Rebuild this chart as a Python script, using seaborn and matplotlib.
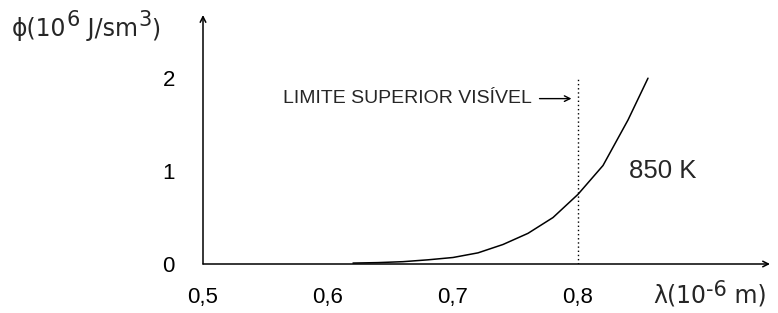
import matplotlib.pyplot as plt
import pandas as pd
import seaborn as sns


# comprimento de onda (10^-6 m) e densidade espectral (10^6 J/sm^3) a 850 K
wavelength = [0.62, 0.64, 0.66, 0.68, 0.70, 0.72, 0.74, 0.76, 0.78, 0.80, 0.82, 0.84, 0.856]
phi = [0.01, 0.015, 0.025, 0.045, 0.07, 0.12, 0.21, 0.33, 0.50, 0.75, 1.06, 1.55, 2.0]

x_ticks = [0.5, 0.6, 0.7, 0.8]
x_tick_labels = ["0,5", "0,6", "0,7", "0,8"]
y_ticks = [0, 1, 2]
y_tick_labels = ["0", "1", "2"]

visible_limit = 0.8
curve_label = "850 K"
limit_label = "LIMITE SUPERIOR VISÍVEL"

# rótulos dos eixos: (texto, tamanho, elevação em pontos)
y_label_parts = [("ϕ(10", 17, 0), ("6", 15, 8), (" J/sm", 17, 0), ("3", 15, 8), (")", 17, 0)]
x_label_parts = [("λ(10", 17, 0), ("-6", 15, 5), (" m)", 17, 0)]


def draw_label(ax, x, y, parts):
    """
    Escreve um rótulo em pedaços encadeados (expoentes quase do tamanho normal).
    """
    fig = ax.figure
    text, size, _ = parts[0]
    first = fig.text(x, y, text, fontsize=size, ha="left", va="baseline",
                     family=["DejaVu Sans"])
    prev = first
    for text, size, rise in parts[1:]:
        prev = ax.annotate(text, xy=(1, 0), xycoords=(prev, first),
                           xytext=(0, rise), textcoords="offset points",
                           fontsize=size, ha="left", va="bottom",
                           family=["DejaVu Sans"], annotation_clip=False)


def main() -> None:
    sns.set_style("white")
    plt.rcParams["font.family"] = ["Liberation Sans", "DejaVu Sans"]

    df = pd.DataFrame({"lambda": wavelength, "phi": phi})

    fig = plt.figure(figsize=(7.78, 3.13), dpi=100)
    ax = fig.add_axes([203 / 778, 49 / 313, 567 / 778, 249 / 313])

    sns.lineplot(data=df, x="lambda", y="phi", ax=ax, color="black", linewidth=1.1)

    ax.set_xlim(0.5, 0.9536)
    ax.set_ylim(0, 2.68)

    # eixos com setas
    for side in ["top", "right", "left", "bottom"]:
        ax.spines[side].set_visible(False)
    arrow = dict(arrowstyle="->", color="black", lw=1.1, shrinkA=0, shrinkB=0)
    ax.annotate("", xy=(1, 0), xytext=(0, 0), xycoords="axes fraction",
                textcoords="axes fraction", arrowprops=arrow)
    ax.annotate("", xy=(0, 1), xytext=(0, 0), xycoords="axes fraction",
                textcoords="axes fraction", arrowprops=arrow)

    ax.set_xticks(x_ticks, x_tick_labels)
    ax.set_yticks(y_ticks, y_tick_labels)
    ax.tick_params(axis="both", direction="inout", length=4.5, width=1,
                   color="black", labelsize=16, labelcolor="black")
    ax.tick_params(axis="x", pad=14)
    ax.tick_params(axis="y", pad=18)
    ax.set_xlabel("")
    ax.set_ylabel("")

    # linha do limite visível
    ax.vlines(visible_limit, 0, 2.0, color="black", linestyle=(0, (1, 2)), linewidth=1)
    ax.annotate("", xy=(visible_limit - 0.003, 1.78), xytext=(visible_limit - 0.033, 1.78),
                arrowprops=dict(arrowstyle="->", color="black", lw=1))
    ax.text(visible_limit - 0.037, 1.78, limit_label, ha="right", va="center", fontsize=14)
    ax.text(0.8405, 1.0, curve_label, ha="left", va="center", fontsize=18.5)

    draw_label(ax, 12 / 778, 1 - 36 / 313, y_label_parts)
    draw_label(ax, 653 / 778, 1 - 302 / 313, x_label_parts)

    fig.savefig("out.png", dpi=100)
    plt.close(fig)


if __name__ == "__main__":
    main()
